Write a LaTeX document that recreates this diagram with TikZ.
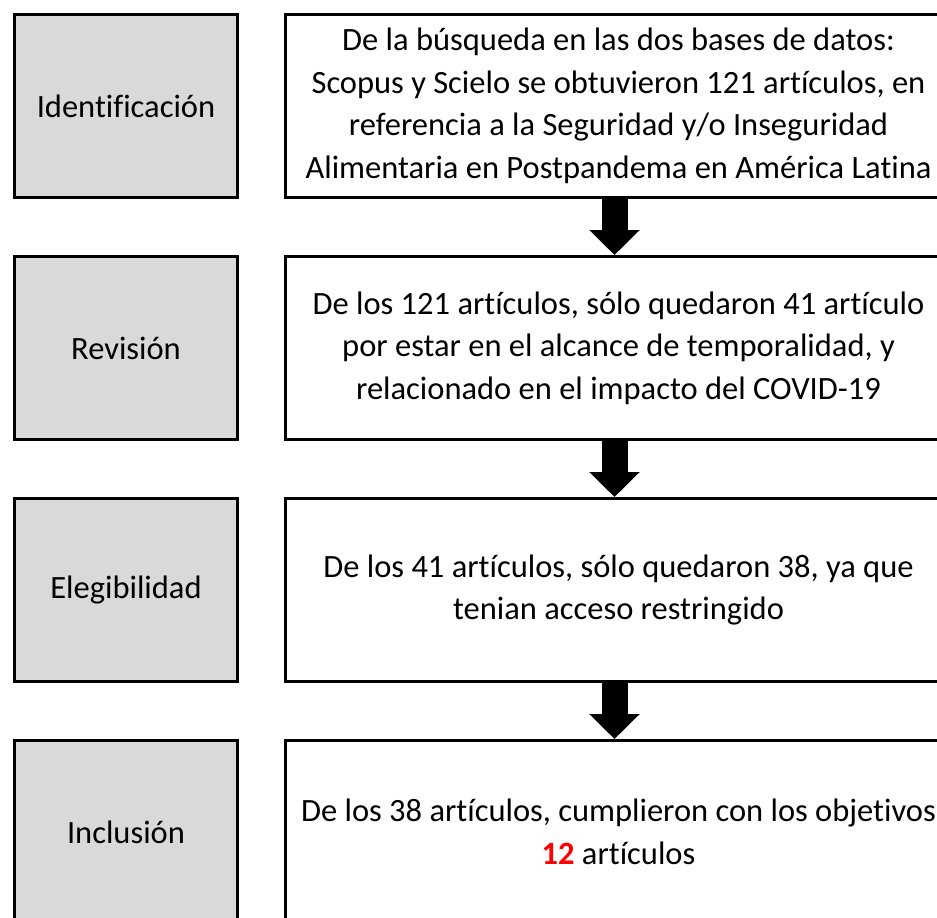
\documentclass[tikz,border=0pt]{standalone}
\usepackage{fontspec}
\setmainfont{Carlito}[Ligatures=NoCommon]
\usetikzlibrary{arrows.meta,positioning}
\begin{document}
\begin{tikzpicture}[x=1pt,y=-1pt,
  stage/.style={draw=black,line width=3pt,fill=graybox,minimum width=223pt,minimum height=183pt,anchor=north west,inner sep=0pt,font=\fontsize{32.5}{42.5}\selectfont},
  desc/.style={draw=black,line width=3pt,fill=white,minimum width=666pt,minimum height=183pt,anchor=north west,inner sep=0pt,align=center,font=\fontsize{32.5}{42.5}\selectfont},
  flow/.style={line width=26pt,-{Triangle[width=49pt,length=25pt]}}]
\definecolor{graybox}{HTML}{D9D9D9}
\useasboundingbox (0,0) rectangle (937,918);
\clip (0,0) rectangle (937,918);
\node[stage] (s1) at (13,13) {Identificación};
\node[stage] (s2) at (13,255) {Revisión};
\node[stage] (s3) at (13,497) {Elegibilidad};
\node[stage] (s4) at (13,739) {Inclusión};
\node[desc] (d1) at (284,13) {De la búsqueda en las dos bases de datos:\\Scopus y Scielo se obtuvieron 121 artículos, en\\referencia a la Seguridad y/o Inseguridad\\Alimentaria en Postpandema en América Latina};
\node[desc] (d2) at (284,255) {De los 121 artículos, sólo quedaron 41 artículo\\por estar en el alcance de temporalidad, y\\relacionado en el impacto del COVID-19};
\node[desc] (d3) at (284,497) {De los 41 artículos, sólo quedaron 38, ya que\\tenian acceso restringido};
\node[desc] (d4) at (284,739) {De los 38 artículos, cumplieron con los objetivos\\{\color{red}\bfseries 12} artículos};
\draw[flow] ([xshift=-4pt]d1.south) -- ([xshift=-4pt]d2.north);
\draw[flow] ([xshift=-4pt]d2.south) -- ([xshift=-4pt]d3.north);
\draw[flow] ([xshift=-4pt]d3.south) -- ([xshift=-4pt]d4.north);
\end{tikzpicture}
\end{document}
